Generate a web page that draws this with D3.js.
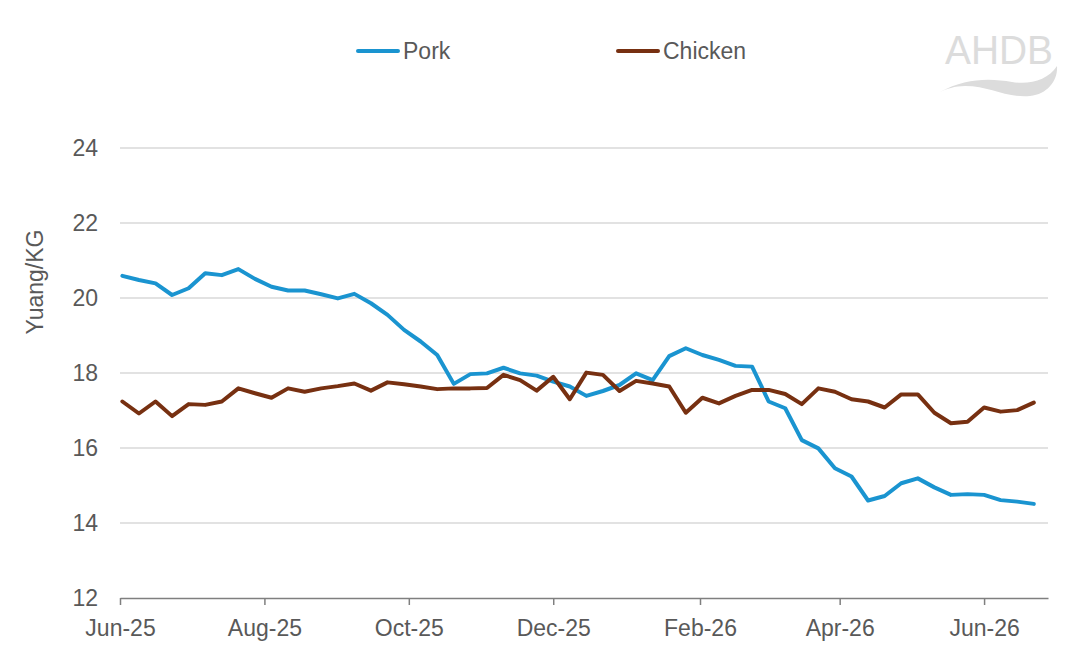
<!DOCTYPE html>
<html>
<head>
<meta charset="utf-8">
<script src="https://cdn.jsdelivr.net/npm/d3@7"></script>
<style>
  body { margin: 0; background: #fff; }
  svg { font-family: "Liberation Sans", Arial, sans-serif; }
</style>
</head>
<body>
<script>
// weekly prices, first week starting 2 Jun 2025
const startDate = "2025-06-02";
const pork = [20.59, 20.48, 20.39, 20.08, 20.26, 20.66, 20.61, 20.77, 20.51, 20.30,
  20.20, 20.20, 20.10, 19.99, 20.11, 19.86, 19.55, 19.15, 18.84, 18.48,
  17.71, 17.97, 17.99, 18.14, 17.99, 17.93, 17.77, 17.64, 17.39, 17.52,
  17.68, 17.99, 17.81, 18.45, 18.66, 18.48, 18.35, 18.19, 18.17, 17.24,
  17.06, 16.21, 15.99, 15.46, 15.24, 14.60, 14.72, 15.06, 15.19, 14.95,
  14.75, 14.77, 14.75, 14.61, 14.57, 14.51];
const chicken = [17.24, 16.92, 17.24, 16.85, 17.17, 17.15, 17.24, 17.59, 17.46, 17.34,
  17.59, 17.50, 17.59, 17.65, 17.72, 17.53, 17.75, 17.70, 17.64, 17.57,
  17.59, 17.59, 17.60, 17.95, 17.81, 17.53, 17.90, 17.30, 18.01, 17.95,
  17.52, 17.79, 17.72, 17.64, 16.94, 17.34, 17.19, 17.39, 17.55, 17.55,
  17.44, 17.17, 17.59, 17.50, 17.30, 17.24, 17.08, 17.43, 17.43, 16.94,
  16.66, 16.70, 17.08, 16.97, 17.01, 17.21];
const yTicks = [12, 14, 16, 18, 20, 22, 24];
const xTickLabels = ["Jun-25", "Aug-25", "Oct-25", "Dec-25", "Feb-26", "Apr-26", "Jun-26"];

const width = 1072, height = 662;
const margin = { top: 148, right: 24, bottom: 64, left: 120 };
const textColor = "#595959";
const fontSize = 23;

const svg = d3.select("body").append("svg")
  .attr("width", width)
  .attr("height", height);

// build dates for each week
const parse = d3.timeParse("%Y-%m-%d");
const start = parse(startDate);
const dates = pork.map((d, i) => d3.timeDay.offset(start, i * 7));

const x = d3.scaleTime()
  .domain([parse("2025-06-01"), parse("2026-06-28")])
  .range([margin.left, width - margin.right]);

const y = d3.scaleLinear()
  .domain([12, 24])
  .range([height - margin.bottom, margin.top]);

// gridlines
svg.append("g")
  .selectAll("line")
  .data(yTicks.slice(1))
  .enter()
  .append("line")
  .attr("x1", margin.left)
  .attr("x2", width - margin.right)
  .attr("y1", d => y(d))
  .attr("y2", d => y(d))
  .attr("stroke", "#d9d9d9")
  .attr("stroke-width", 1.5);

// y axis labels (no axis line)
const yAxis = svg.append("g")
  .attr("transform", `translate(${margin.left},0)`)
  .call(d3.axisLeft(y).tickValues(yTicks).tickSize(0).tickPadding(22));
yAxis.select(".domain").remove();
yAxis.selectAll("text")
  .attr("fill", textColor)
  .attr("font-size", fontSize)
  .attr("font-family", "Liberation Sans, Arial, sans-serif");

// x axis
const fmt = d3.timeFormat("%b-%y");
const parseLabel = d3.timeParse("%b-%y");
const xAxis = svg.append("g")
  .attr("transform", `translate(0,${y(12)})`)
  .call(d3.axisBottom(x)
    .tickValues(xTickLabels.map(s => parseLabel(s)))
    .tickFormat(fmt)
    .tickSize(7)
    .tickSizeOuter(0)
    .tickPadding(15));
xAxis.select(".domain").attr("stroke", "#7f7f7f").attr("stroke-width", 1.5);
xAxis.selectAll(".tick line").attr("stroke", "#7f7f7f").attr("stroke-width", 1.5);
xAxis.selectAll("text")
  .attr("fill", textColor)
  .attr("font-size", fontSize)
  .attr("font-family", "Liberation Sans, Arial, sans-serif");

// y axis title
svg.append("text")
  .attr("transform", "translate(43,282) rotate(-90)")
  .attr("text-anchor", "middle")
  .attr("fill", textColor)
  .attr("font-size", fontSize)
  .text("Yuang/KG");

// lines
const line = d3.line()
  .x((d, i) => x(dates[i]))
  .y(d => y(d));

const series = [
  { name: "Pork", values: pork, color: "#1a94d0" },
  { name: "Chicken", values: chicken, color: "#773011" }
];

series.forEach(s => {
  svg.append("path")
    .datum(s.values)
    .attr("fill", "none")
    .attr("stroke", s.color)
    .attr("stroke-width", 4)
    .attr("stroke-linejoin", "round")
    .attr("stroke-linecap", "round")
    .attr("d", line);
});

// legend
const legendPos = [358, 618];
series.forEach((s, i) => {
  const g = svg.append("g").attr("transform", `translate(${legendPos[i]},51)`);
  g.append("line")
    .attr("x1", 0).attr("x2", 40)
    .attr("stroke", s.color)
    .attr("stroke-width", 4)
    .attr("stroke-linecap", "round");
  g.append("text")
    .attr("x", 45)
    .attr("y", 8)
    .attr("fill", textColor)
    .attr("font-size", fontSize)
    .text(s.name);
});

// AHDB logo
const logo = svg.append("g").attr("fill", "#dcdcdc");
logo.append("text")
  .attr("x", 999)
  .attr("y", 64)
  .attr("text-anchor", "middle")
  .attr("font-size", 40)
  .attr("textLength", 108)
  .attr("lengthAdjust", "spacingAndGlyphs")
  .text("AHDB");
logo.append("path")
  .attr("d", "M940,92 C965,78 990,78 1012,82 C1030,85 1048,80 1057,66 C1058,80 1048,94 1030,96 C1005,98 990,86 965,86 C955,86 946,89 940,92 Z");
</script>
</body>
</html>
